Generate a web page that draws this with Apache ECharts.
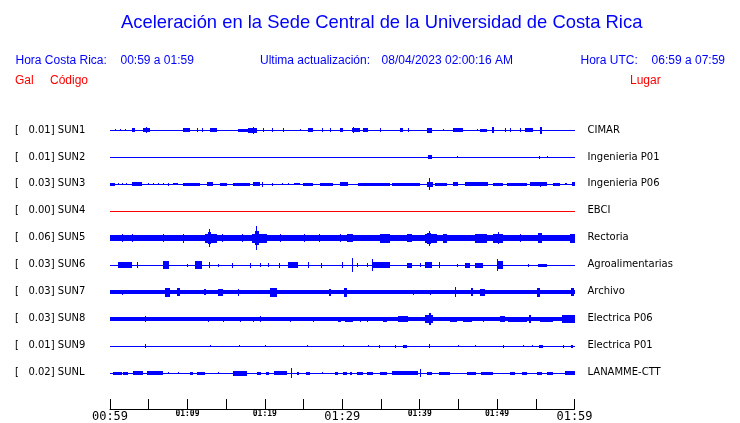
<!DOCTYPE html>
<html><head><meta charset="utf-8">
<script src="https://cdn.jsdelivr.net/npm/echarts@6/dist/echarts.min.js"></script>
<style>html,body{margin:0;padding:0;background:#fff}#c{width:740px;height:423px}</style>
</head><body><div id="c"></div>
<script>
// ---- data (time in minutes after 00:59; amplitude relative to trace spacing) ----
const stations = ['SUN1','SUN2','SUN3','SUN4','SUN5','SUN6','SUN7','SUN8','SUN9','SUNL'];
const scales = ['0.01','0.01','0.03','0.00','0.06','0.03','0.03','0.03','0.01','0.02'];
const places = ['CIMAR','Ingenieria P01','Ingenieria P06','EBCI','Rectoria','Agroalimentarias','Archivo','Electrica P06','Electrica P01','LANAMME-CTT'];
const noise = [0,0,0,0,0.12,0,0.075,0.075,0,0];
const timeLabels = ['00:59','01:09','01:19','01:29','01:39','01:49','01:59'];
const bigLabels = ['00:59','01:29','01:59'];

// bursts: [start, end, amplitude]
const sun1 = [[0.65,0.65,0.04],[1.29,1.29,0.04],[1.94,1.94,0.04],[2.8,3.23,0.075],[4.3,5.17,0.075],[4.6,4.7,0.11],[9.47,10.33,0.075],[11.2,11.2,0.075],[11.84,11.84,0.075],[12.92,13.78,0.075],[16.57,17.86,0.055],[17.86,18.95,0.09],[18.45,18.55,0.13],[19.8,19.8,0.075],[20.89,20.89,0.075],[22.38,22.38,0.075],[24.54,24.54,0.04],[25.61,26.26,0.075],[27.34,27.34,0.075],[28.41,28.41,0.075],[29.71,30.13,0.075],[31.2,32.3,0.075],[31.4,31.5,0.11],[32.7,33.3,0.075],[34.87,34.87,0.075],[37.46,37.88,0.075],[38.53,38.53,0.075],[40.9,41.55,0.09],[43.05,43.05,0.04],[44.34,45.63,0.075],[47.36,47.36,0.04],[47.79,48.65,0.055],[49.3,49.6,0.11],[51.02,51.02,0.075],[51.67,51.67,0.075],[52.96,52.96,0.075],[53.6,54.68,0.075],[55.54,55.84,0.13]];
const sun2 = [[41.1,41.55,0.075],[44.78,44.78,0.04],[55.41,55.41,0.055],[56.4,56.4,0.04]];
const sun3 = [[0,0.65,0.055],[1.07,1.1,0.04],[1.6,1.6,0.04],[2.1,2.16,0.04],[2.8,4.09,0.075],[4.95,4.95,0.04],[5.5,5.6,0.04],[6.2,6.2,0.04],[6.8,6.89,0.04],[7.53,7.53,0.055],[8.18,8.82,0.04],[9.47,11.62,0.055],[12.49,13.34,0.075],[14.21,15.07,0.055],[15.93,18.08,0.055],[18.51,19.37,0.075],[19.67,19.67,0.09],[20.89,20.89,0.055],[22.17,22.3,0.04],[23.0,23.1,0.04],[23.8,24.54,0.04],[24.97,26.26,0.055],[27.12,28.84,0.055],[29.71,30.78,0.075],[32.07,36.17,0.055],[36.38,40.04,0.055],[40.9,41.76,0.09],[41.2,41.28,0.22],[41.98,43.49,0.055],[44.34,44.99,0.075],[45.85,48.86,0.075],[49.51,50.8,0.055],[51.24,53.82,0.055],[54.25,56.4,0.075],[55.5,55.6,0.09],[57.26,58.12,0.055],[58.77,58.99,0.04],[59.63,60,0.075]];
const sun4 = [];
const sun5 = [[1.5,1.6,0.15],[2.84,2.9,0.15],[6.89,6.95,0.15],[9.47,9.55,0.17],[12.27,13.78,0.16],[12.6,13.1,0.22],[12.8,12.88,0.33],[14.5,14.6,0.15],[17,17.1,0.15],[18.3,20.24,0.16],[18.7,19.2,0.26],[18.9,19.0,0.44],[22,22.1,0.15],[25,25.1,0.15],[27,27.1,0.15],[29.7,29.8,0.15],[30.57,31.43,0.15],[34.87,36.17,0.16],[38.3,38.96,0.15],[40.7,42.2,0.16],[41.0,41.5,0.2],[41.2,41.28,0.28],[43.05,43.49,0.16],[47.15,48.65,0.16],[49.51,50.8,0.16],[50.1,50.2,0.22],[52.96,53.05,0.15],[55.32,55.75,0.18],[59.42,60,0.16]];
const sun6 = [[1.07,2.8,0.11],[3.44,3.5,0.11],[6.8,7.66,0.15],[9.9,9.9,0.055],[10.98,11.84,0.15],[12.8,12.9,0.11],[14.0,14.0,0.055],[15.8,15.85,0.09],[18.08,18.1,0.09],[19.37,19.4,0.075],[20.45,20.5,0.075],[21.87,21.9,0.09],[23.03,24.32,0.11],[25.61,25.7,0.11],[27.21,27.25,0.09],[29.93,30.13,0.11],[31.22,31.22,0.26],[31.86,31.86,0.075],[33.16,33.16,0.075],[33.8,36.17,0.11],[33.8,33.8,0.22],[38.3,38.96,0.09],[40.04,40.04,0.075],[40.69,41.55,0.11],[42.5,42.55,0.11],[44.86,44.86,0.055],[45.85,46.5,0.09],[47.2,48.22,0.09],[49.94,50.8,0.15],[50.0,50.0,0.22],[54.03,54.03,0.055],[55.32,56.4,0.055]];
const sun7 = [[1.5,1.55,0.09],[7.1,7.75,0.17],[8.7,9.0,0.15],[12.2,12.4,0.11],[13.99,14.64,0.13],[16.5,16.7,0.13],[20.67,21.53,0.17],[28.3,28.6,0.13],[30.2,30.55,0.17],[39.18,39.25,0.09],[41.33,41.4,0.09],[44.5,44.7,0.19],[46.6,46.9,0.15],[47.79,48.44,0.13],[55.2,55.6,0.17],[59.5,59.9,0.15]];
const sun8 = [[4.5,4.6,0.11],[12.7,12.75,0.09],[14.55,14.6,0.09],[16.79,16.85,0.09],[18.51,18.56,0.09],[19.4,19.55,0.11],[23.25,23.3,0.09],[26.26,26.3,0.09],[29.49,29.8,0.09],[30.4,31.43,0.09],[32.29,32.35,0.09],[33.16,33.2,0.09],[35.3,35.73,0.09],[37.24,38.53,0.11],[40.69,41.76,0.15],[41.25,41.4,0.22],[43.92,44.78,0.09],[45.63,46.72,0.09],[48.22,48.3,0.09],[50.37,51.02,0.11],[51.45,53.82,0.09],[54.1,54.4,0.15],[55.54,57.26,0.09],[58.34,60,0.15]];
const sun9 = [[4.52,4.52,0.075],[12.92,12.92,0.04],[16.7,16.7,0.04],[20.02,20.02,0.04],[25.4,25.4,0.04],[30.13,30.13,0.04],[33.36,33.36,0.04],[34.78,34.78,0.055],[36.81,37.0,0.055],[37.9,38.32,0.055],[41.24,41.3,0.075],[44.99,44.99,0.04],[47.15,47.15,0.04],[50.8,50.8,0.055],[53.3,53.3,0.04],[54.47,54.47,0.04],[55.41,55.97,0.055],[58.47,58.6,0.055],[59.5,59.84,0.055]];
const sunl = [[0.43,1.51,0.055],[1.72,2.36,0.055],[3.01,4.3,0.075],[4.74,6.89,0.075],[7.53,7.53,0.04],[8.82,8.82,0.04],[10.33,10.7,0.055],[11.3,12.27,0.055],[13.99,13.99,0.04],[15.93,17.66,0.09],[18.95,19.5,0.055],[20.2,20.6,0.055],[21.2,22.9,0.075],[23.34,23.34,0.185],[24.11,24.4,0.055],[25.3,25.83,0.055],[27.34,27.34,0.04],[29.06,29.5,0.055],[30.1,30.57,0.055],[31.0,31.3,0.055],[31.86,32.72,0.055],[33.16,34.0,0.055],[34.87,35.73,0.055],[36.38,39.82,0.075],[40.04,40.04,0.15],[40.9,41.6,0.055],[42.5,43.92,0.055],[46.07,47.3,0.055],[47.9,49.51,0.055],[51.67,52.3,0.055],[53.2,53.82,0.055],[55.11,55.8,0.055],[56.5,57.26,0.055],[58.77,60,0.075]];
const traces = [sun1,sun2,sun3,sun4,sun5,sun6,sun7,sun8,sun9,sunl];
const traceColors = ['#0000ff','#0000ff','#0000ff','#ff0000','#0000ff','#0000ff','#0000ff','#0000ff','#0000ff','#0000ff'];

// ---- chart ----
const chart = echarts.init(document.getElementById('c'), null, {renderer: 'canvas'});

function renderTrace(params, api) {
  const t0 = api.value(0), t1 = api.value(1), a = api.value(2), row = api.value(3);
  const p0 = api.coord([t0, row]);
  const p1 = api.coord([t1, row]);
  const pa = api.coord([t0, row + a]);
  const h = Math.abs(pa[1] - p0[1]);
  const x0 = Math.round(p0[0]);
  let x1 = Math.round(p1[0]);
  if (x1 <= x0) x1 = x0 + 1;
  const H = Math.max(1, Math.round(2 * h));
  const y0 = Math.round(p0[1]) - Math.floor(H / 2);
  return {type: 'rect', shape: {x: x0, y: y0, width: x1 - x0, height: H},
          style: {fill: traceColors[row - 1]}};
}

const series = traces.map(function (tr, i) {
  const data = [[0, 60, noise[i], i + 1]].concat(tr.map(function (b) { return [b[0], b[1], b[2], i + 1]; }));
  return {type: 'custom', name: stations[i], renderItem: renderTrace, data: data,
          encode: {x: [0, 1], y: 3}, clip: false, silent: true, animation: false};
});

function rowLabel(v, fn) {
  const r = Math.round(v);
  if (Math.abs(v - r) > 1e-6 || r < 1 || r > stations.length) return '';
  return fn(r - 1);
}

const blue = '#0000ff', red = '#ff0000', hdrFont = '12px "Liberation Sans", Arial, sans-serif';
function txt(x, y, text, color, font, align) {
  return {type: 'text', x: x, y: y, silent: true,
          style: {text: text, fill: color, font: font, align: align || 'left', verticalAlign: 'middle'}};
}

chart.setOption({
  animation: false,
  backgroundColor: '#fff',
  grid: {left: 110, top: 103, width: 464.5, height: 306.5},
  xAxis: {
    type: 'value', min: 0, max: 60, interval: 5, position: 'bottom',
    axisLine: {show: true, onZero: false, lineStyle: {color: '#000', width: 1}},
    axisTick: {show: true, inside: true, length: 10, lineStyle: {color: '#000'}},
    splitLine: {show: false},
    axisLabel: {
      show: true, margin: 1, showMinLabel: true, showMaxLabel: true, hideOverlap: false,
      formatter: function (v) {
        if (v % 10 !== 0) return '';
        const lab = timeLabels[v / 10];
        return bigLabels.indexOf(lab) >= 0 ? '{big|' + lab + '}' : '{small|' + lab + '}';
      },
      rich: {
        big: {fontFamily: 'DejaVu Sans Mono', fontSize: 12, lineHeight: 14, color: '#000'},
        small: {fontFamily: 'DejaVu Sans Mono', fontSize: 8, fontWeight: 'bold', lineHeight: 8, color: '#000'}
      }
    }
  },
  yAxis: [
    {type: 'value', min: 0, max: 11.352, interval: 1, inverse: true, position: 'left',
     axisLine: {show: false}, axisTick: {show: false}, splitLine: {show: false},
     axisLabel: {align: 'left', margin: 95, fontFamily: 'DejaVu Sans', fontSize: 10, color: '#000',
       formatter: function (v) { return rowLabel(v, function (i) { return '[   ' + scales[i] + '] ' + stations[i]; }); }}},
    {type: 'value', min: 0, max: 11.352, interval: 1, inverse: true, position: 'right',
     axisLine: {show: false}, axisTick: {show: false}, splitLine: {show: false},
     axisLabel: {align: 'left', margin: 13, fontFamily: 'DejaVu Sans', fontSize: 10, color: '#000',
       formatter: function (v) { return rowLabel(v, function (i) { return places[i]; }); }}}
  ],
  graphic: [
    txt(121, 23, 'Aceleración en la Sede Central de la Universidad de Costa Rica', blue, '18.4px "Liberation Sans", Arial, sans-serif'),
    txt(15.5, 61, 'Hora Costa Rica:', blue, hdrFont),
    txt(120.5, 61, '00:59 a 01:59', blue, hdrFont),
    txt(260, 61, 'Ultima actualización:', blue, hdrFont),
    txt(513, 61, '08/04/2023 02:00:16 AM', blue, hdrFont, 'right'),
    txt(580.5, 61, 'Hora UTC:', blue, hdrFont),
    txt(725, 61, '06:59 a 07:59', blue, hdrFont, 'right'),
    txt(15, 81, 'Gal', red, hdrFont),
    txt(50, 81, 'Código', red, hdrFont),
    txt(630, 81, 'Lugar', red, hdrFont)
  ],
  series: series
});
</script>
</body></html>
